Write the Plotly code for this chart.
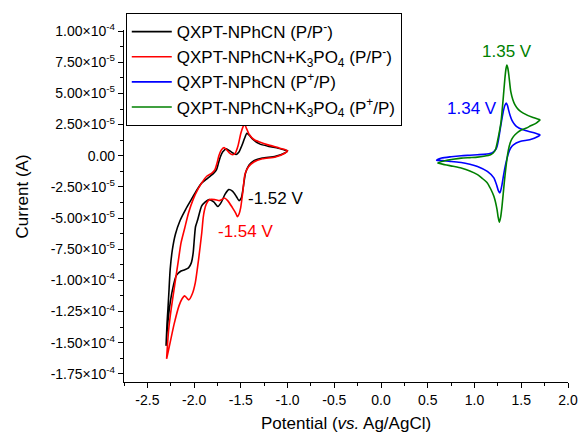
import plotly.graph_objects as go

# Current values are given in units of 1e-5 A
SCALE = 1e-5

# QXPT-NPhCN, reduction (P/P-): cathodic sweep then anodic sweep
black_fwd_E = [-1.00, -1.03, -1.13, -1.27, -1.36, -1.41, -1.45, -1.475, -1.495, -1.52,
               -1.55, -1.59, -1.63, -1.67, -1.71, -1.745, -1.79, -1.84, -1.88, -1.92,
               -1.96, -1.985, -2.00, -2.01, -2.03, -2.06, -2.10, -2.14, -2.19, -2.23,
               -2.265, -2.29, -2.30]
black_fwd_I = [0.40, 0.22, -0.05, -0.19, -0.40, -0.72, -1.38, -2.58, -3.38, -3.60,
               -3.25, -2.85, -2.72, -3.10, -3.75, -4.08, -3.70, -3.52, -3.70, -4.05,
               -5.10, -5.70, -6.90, -7.80, -8.60, -9.00, -9.15, -9.25, -9.60, -10.70,
               -12.30, -14.20, -15.26]
black_rev_E = [-2.30, -2.29, -2.28, -2.27, -2.256, -2.232, -2.20, -2.15, -2.09, -2.03,
               -1.97, -1.92, -1.87, -1.83, -1.79, -1.76, -1.74, -1.72, -1.695, -1.656,
               -1.62, -1.58, -1.55, -1.52, -1.49, -1.46, -1.435, -1.41, -1.37, -1.30,
               -1.20, -1.10, -1.03, -1.00]
black_rev_I = [-15.26, -13.50, -12.30, -11.00, -9.12, -7.52, -6.30, -5.20, -4.30, -3.52,
               -2.75, -2.20, -1.90, -1.65, -1.40, -1.12, -0.60, -0.10, 0.30, 0.55,
               0.40, 0.20, 0.10, 0.30, 0.80, 1.40, 1.80, 1.65, 1.30, 0.95,
               0.75, 0.60, 0.45, 0.40]

# QXPT-NPhCN + K3PO4, reduction (P/P-)
red_fwd_E = [-1.00, -1.03, -1.13, -1.27, -1.36, -1.42, -1.457, -1.478, -1.502, -1.52,
             -1.537, -1.555, -1.589, -1.641, -1.677, -1.70, -1.729, -1.78, -1.834, -1.869,
             -1.89, -1.903, -1.918, -1.952, -1.987, -2.02, -2.057, -2.08, -2.102, -2.13,
             -2.162, -2.214, -2.256, -2.294]
red_fwd_I = [0.40, 0.20, -0.10, -0.25, -0.50, -0.90, -1.52, -2.85, -4.18, -4.70,
             -4.90, -4.60, -4.18, -3.60, -3.39, -3.50, -3.60, -3.52, -3.52, -3.87,
             -4.40, -4.99, -6.18, -8.32, -10.18, -11.10, -11.57, -11.40, -11.25, -11.50,
             -12.05, -13.52, -14.98, -16.30]
red_rev_E = [-2.294, -2.285, -2.27, -2.245, -2.21, -2.17, -2.14, -2.10, -2.06, -2.01,
             -1.96, -1.92, -1.865, -1.81, -1.777, -1.755, -1.735, -1.71, -1.68, -1.655,
             -1.62, -1.59, -1.56, -1.53, -1.50, -1.475, -1.46, -1.44, -1.41, -1.36,
             -1.30, -1.20, -1.10, -1.03, -1.00]
red_rev_I = [-16.30, -15.20, -13.80, -12.30, -10.50, -8.50, -7.00, -5.80, -4.60, -3.50,
             -2.70, -2.20, -1.65, -1.40, -1.12, -0.60, 0.00, 0.45, 0.65, 0.50,
             0.20, 0.08, 0.20, 0.80, 1.80, 2.35, 2.55, 2.20, 1.70, 1.30,
             1.10, 0.85, 0.65, 0.50, 0.40]

# QXPT-NPhCN, oxidation (P+/P): anodic sweep then cathodic sweep
blue_fwd_E = [0.595, 0.648, 0.75, 0.857, 0.95, 1.032, 1.10, 1.154, 1.185, 1.207,
              1.228, 1.241, 1.259, 1.276, 1.294, 1.312, 1.325, 1.339, 1.352, 1.364,
              1.38, 1.398, 1.425, 1.451, 1.521, 1.626, 1.702]
blue_fwd_I = [-0.37, -0.19, -0.08, 0.00, 0.04, 0.08, 0.11, 0.16, 0.22, 0.34,
              0.52, 0.74, 1.40, 2.20, 3.00, 3.70, 4.05, 4.22, 4.05, 3.68,
              3.25, 2.88, 2.55, 2.34, 2.08, 1.86, 1.68]
blue_rev_E = [1.702, 1.678, 1.59, 1.486, 1.416, 1.385, 1.364, 1.345, 1.328, 1.31,
              1.294, 1.28, 1.27, 1.255, 1.241, 1.207, 1.137, 1.032, 0.95, 0.857,
              0.75, 0.683, 0.595]
blue_rev_I = [1.68, 1.54, 1.28, 1.14, 0.88, 0.60, 0.22, -0.30, -0.86, -1.60,
              -2.32, -2.80, -2.99, -2.80, -2.46, -1.78, -1.26, -0.86, -0.68, -0.54,
              -0.46, -0.40, -0.37]

# QXPT-NPhCN + K3PO4, oxidation (P+/P)
green_fwd_E = [0.606, 0.683, 0.77, 0.857, 0.95, 1.032, 1.10, 1.172, 1.20, 1.224,
               1.249, 1.27, 1.284, 1.304, 1.325, 1.337, 1.346, 1.357, 1.367, 1.388,
               1.41, 1.433, 1.47, 1.521, 1.626, 1.702]
green_fwd_I = [-0.58, -0.40, -0.28, -0.19, -0.15, -0.11, -0.04, 0.08, 0.22, 0.48,
               1.28, 2.10, 2.74, 4.34, 6.22, 7.00, 7.28, 7.00, 6.48, 5.14,
               4.50, 4.08, 3.70, 3.42, 3.06, 2.88]
green_rev_E = [1.702, 1.66, 1.60, 1.556, 1.503, 1.433, 1.40, 1.381, 1.362, 1.346,
               1.318, 1.294, 1.28, 1.265, 1.252, 1.241, 1.207, 1.172, 1.137, 1.08,
               1.032, 0.95, 0.857, 0.77, 0.683, 0.606]
green_rev_I = [2.88, 2.62, 2.40, 2.22, 2.08, 1.68, 1.35, 1.02, 0.45, -0.32,
               -2.18, -4.06, -4.90, -5.33, -4.90, -4.32, -3.26, -2.65, -2.18, -1.80,
               -1.52, -1.22, -0.99, -0.85, -0.72, -0.58]

series_names = [
    "QXPT-NPhCN (P/P<sup>-</sup>)",
    "QXPT-NPhCN+K<sub>3</sub>PO<sub>4</sub> (P/P<sup>-</sup>)",
    "QXPT-NPhCN (P<sup>+</sup>/P)",
    "QXPT-NPhCN+K<sub>3</sub>PO<sub>4</sub> (P<sup>+</sup>/P)",
]
series_colors = ["#000000", "#ff0000", "#0000ff", "#008000"]

# Peak potential labels: text, E, I (1e-5 A)
peak_text = ["-1.52 V", "-1.54 V", "1.35 V", "1.34 V"]
peak_E = [-1.133, -1.455, 1.352, 0.969]
peak_I = [-3.42, -6.10, 8.35, 3.80]
peak_colors = ["#000000", "#ff0000", "#008000", "#0000ff"]

x_tickvals = [-2.5, -2.0, -1.5, -1.0, -0.5, 0.0, 0.5, 1.0, 1.5, 2.0]
x_ticktext = ["-2.5", "-2.0", "-1.5", "-1.0", "-0.5", "0.0", "0.5", "1.0", "1.5", "2.0"]
y_tickvals = [1.0e-4, 7.5e-5, 5.0e-5, 2.5e-5, 0.0, -2.5e-5, -5.0e-5, -7.5e-5,
              -1.0e-4, -1.25e-4, -1.5e-4, -1.75e-4]
y_ticktext = ["1.00×10<sup>-4</sup>", "7.50×10<sup>-5</sup>", "5.00×10<sup>-5</sup>",
              "2.50×10<sup>-5</sup>", "0.00", "-2.50×10<sup>-5</sup>",
              "-5.00×10<sup>-5</sup>", "-7.50×10<sup>-5</sup>", "-1.00×10<sup>-4</sup>",
              "-1.25×10<sup>-4</sup>", "-1.50×10<sup>-4</sup>", "-1.75×10<sup>-4</sup>"]

FONT = "Liberation Sans, Arial, sans-serif"

curves = [
    (black_fwd_E + black_rev_E, black_fwd_I + black_rev_I),
    (red_fwd_E + red_rev_E, red_fwd_I + red_rev_I),
    (blue_fwd_E + blue_rev_E, blue_fwd_I + blue_rev_I),
    (green_fwd_E + green_rev_E, green_fwd_I + green_rev_I),
]

fig = go.Figure()
for (E, I), name, color in zip(curves, series_names, series_colors):
    fig.add_trace(go.Scatter(
        x=E, y=[v * SCALE for v in I], mode="lines", name=name,
        line=dict(color=color, width=1.6, shape="spline", smoothing=0.6),
    ))

for text, e, i, c in zip(peak_text, peak_E, peak_I, peak_colors):
    fig.add_annotation(x=e, y=i * SCALE, text=text, showarrow=False,
                       font=dict(family=FONT, size=17, color=c),
                       xanchor="center", yanchor="middle")

# Axis titles
fig.add_annotation(xref="paper", yref="paper", x=0.5, y=-0.119,
                   text="Potential (<i>vs.</i> Ag/AgCl)", showarrow=False,
                   font=dict(family=FONT, size=17, color="#000000"),
                   xanchor="center", yanchor="middle")
fig.add_annotation(xref="paper", yref="paper", x=-0.229, y=0.528,
                   text="Current (A)", showarrow=False, textangle=-90,
                   font=dict(family=FONT, size=17, color="#000000"),
                   xanchor="center", yanchor="middle")

axis_common = dict(
    showgrid=False, zeroline=False, showline=True, linecolor="#000000", linewidth=1.3,
    ticks="outside", ticklen=5, tickwidth=1.3, tickcolor="#000000",
    tickfont=dict(family=FONT, size=14, color="#000000"),
    mirror=False,
)

fig.update_layout(
    width=588, height=435,
    margin=dict(l=124, r=10, t=30, b=53),
    paper_bgcolor="white", plot_bgcolor="white",
    font=dict(family=FONT, color="#000000"),
    xaxis=dict(range=[-2.75, 2.0], tickmode="array", tickvals=x_tickvals,
               ticktext=x_ticktext,
               minor=dict(ticks="outside", ticklen=3, tickwidth=1.3,
                          tickcolor="#000000", dtick=0.25, tick0=0),
               **axis_common),
    yaxis=dict(range=[-1.816e-4, 1.009e-4], tickmode="array", tickvals=y_tickvals,
               ticktext=y_ticktext,
               minor=dict(ticks="outside", ticklen=3, tickwidth=1.3,
                          tickcolor="#000000", dtick=1.25e-5, tick0=0),
               **axis_common),
    legend=dict(x=0.004, y=1.048, xanchor="left", yanchor="top",
                bordercolor="#000000", borderwidth=1, bgcolor="white",
                font=dict(family=FONT, size=17, color="#000000"),
                itemwidth=40, tracegroupgap=0),
    showlegend=True,
)

fig.write_html("out.html")
